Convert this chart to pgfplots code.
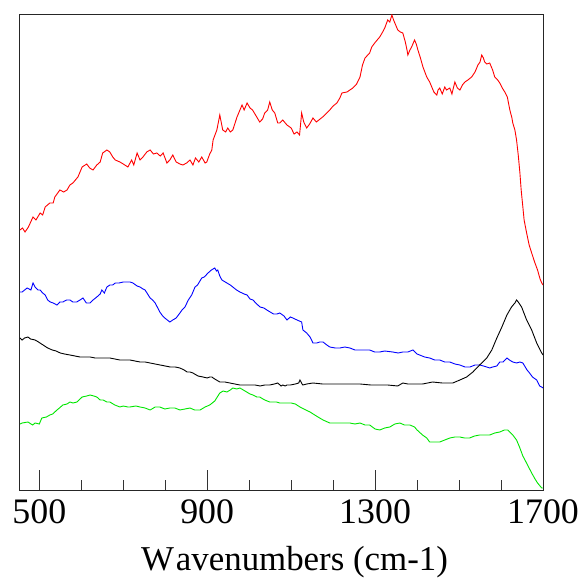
\documentclass[border=0pt]{standalone}
\usepackage{pgfplots}
\pgfplotsset{compat=1.18}
\usepackage{fontspec}
\setmainfont{Liberation Serif}
\definecolor{pgreen}{RGB}{0,230,0}
\begin{document}
\begin{tikzpicture}
\begin{axis}[
  scale only axis, width=523bp, height=475bp,
  xmin=454, xmax=1700, ymin=0, ymax=475,
  axis line style={line width=1bp, black!85},
  xtick={500,900,1300,1700},
  minor xtick={600,700,800,1000,1100,1200,1400,1500,1600},
  ytick=\empty,
  xtick pos=bottom, tick align=inside,
  major tick length=20bp, minor tick length=10bp,
  tick style={line width=0.9bp, black!80},
  /pgf/number format/assume math mode=true,
  /pgf/number format/1000 sep={},
  ticklabel style={font=\fontsize{36}{40}\selectfont},
  xticklabel style={yshift=-6bp},
  xlabel={W\kern2bp avenumbers (cm-1)},
  xlabel style={font=\fontsize{35}{40}\selectfont, xshift=13bp, yshift=-16bp},
  every axis plot/.append style={line width=0.9bp, mark=none},
]
\addplot[red] coordinates {
(454,260)(460,262)(466,258)(474,263)(485,273)(492,270)(502,277)(508,275)(514,283)(525,287)
(533,287)(537,293)(549,300)(558,298)(566,300)(573,305)(580,307)(586,310)(592,313)(602,323)
(613,326)(620,322)(628,320)(637,325)(645,328)(651,337)(661,340)(668,338)(675,333)(681,330)
(692,328)(700,326)(711,323)(720,330)(725,325)(733,337)(740,330)(747,333)(756,338)(764,340)
(772,336)(780,337)(788,334)(795,337)(804,327)(811,330)(818,335)(826,328)(835,326)(842,325)
(851,327)(859,330)(866,325)(872,332)(880,328)(887,333)(895,327)(899,328)(906,336)(911,340)
(914,350)(923,360)(930,375)(937,360)(944,358)(949,362)(955,358)(961,360)(971,373)(983,385)
(988,380)(995,387)(1002,382)(1008,380)(1018,373)(1025,368)(1032,371)(1037,377)(1044,380)(1049,388)
(1055,380)(1061,377)(1068,367)(1073,367)(1080,370)(1090,365)(1100,362)(1107,356)(1114,358)(1120,355)
(1125,377)(1130,368)(1137,362)(1144,366)(1152,372)(1160,368)(1175,373)(1185,377)(1192,380)(1200,384)
(1209,387)(1216,392)(1221,397)(1233,398)(1240,400)(1247,402)(1256,406)(1264,413)(1270,425)(1276,432)
(1287,437)(1292,443)(1299,447)(1311,453)(1318,458)(1323,462)(1330,470)(1335,468)(1340,475)(1344,470)
(1347,467)(1354,460)(1360,458)(1366,457)(1372,448)(1376,440)(1378,435)(1383,440)(1387,443)(1394,450)
(1398,446)(1402,440)(1408,432)(1414,423)(1423,413)(1430,408)(1435,403)(1440,398)(1447,395)(1450,400)
(1454,402)(1460,396)(1466,403)(1470,400)(1478,402)(1483,396)(1490,408)(1496,402)(1502,400)(1508,405)
(1514,408)(1521,410)(1530,413)(1538,418)(1545,425)(1550,428)(1554,435)(1558,432)(1561,428)(1566,426)
(1573,427)(1580,420)(1585,413)(1592,410)(1597,407)(1603,402)(1609,398)(1615,393)(1621,380)(1626,372)
(1628,367)(1633,360)(1637,350)(1641,335)(1645,317)(1648,300)(1652,283)(1655,270)(1661,257)(1667,245)
(1673,237)(1680,228)(1687,220)(1693,211)(1697,207)(1700,205)
};
\addplot[blue] coordinates {
(454,198)(459,198)(471,202)(480,200)(485,207)(490,203)(497,200)(502,200)(508,197)(514,195)
(520,190)(526,188)(533,187)(542,185)(549,188)(556,188)(565,190)(573,190)(580,188)(589,188)
(597,190)(604,192)(612,187)(621,187)(628,190)(637,193)(645,196)(649,200)(655,197)(661,203)
(668,205)(675,205)(681,207)(690,207)(700,208)(709,208)(716,208)(723,207)(733,204)(740,203)
(747,201)(752,200)(758,196)(764,192)(770,190)(776,187)(781,183)(787,178)(794,174)(799,172)
(805,170)(811,168)(818,170)(826,172)(835,177)(840,180)(847,183)(855,190)(863,195)(871,203)
(877,205)(887,212)(893,213)(902,217)(910,220)(918,222)(922,219)(925,220)(930,214)(935,210)
(947,207)(955,205)(961,203)(970,200)(978,198)(988,196)(995,195)(1002,191)(1009,190)(1018,186)
(1026,183)(1035,182)(1042,180)(1050,178)(1058,176)(1066,176)(1073,177)(1083,174)(1090,170)(1098,173)
(1104,172)(1114,170)(1125,168)(1128,160)(1137,157)(1145,153)(1152,147)(1161,147)(1168,148)(1176,148)
(1185,145)(1192,143)(1205,142)(1216,142)(1228,143)(1240,142)(1252,140)(1264,140)(1276,140)(1287,140)
(1299,138)(1311,138)(1323,139)(1342,138)(1355,137)(1366,138)(1378,138)(1390,140)(1400,136)(1406,135)
(1418,133)(1430,132)(1442,130)(1454,130)(1466,128)(1478,128)(1490,126)(1502,125)(1514,123)(1526,123)
(1538,125)(1550,125)(1566,123)(1573,122)(1580,123)(1590,124)(1597,128)(1605,128)(1614,132)(1620,130)
(1628,128)(1637,127)(1645,128)(1652,127)(1662,120)(1668,117)(1675,113)(1685,110)(1692,104)(1697,103)
(1700,102)
};
\addplot[black] coordinates {
(454,152)(459,150)(465,152)(473,153)(479,151)(490,150)(498,148)(509,145)(520,142)(531,140)
(540,139)(550,137)(560,136)(573,135)(585,134)(597,133)(610,133)(621,133)(633,132)(645,132)
(656,132)(668,132)(680,131)(692,130)(703,130)(716,130)(728,129)(740,128)(752,128)(764,127)
(776,126)(788,125)(800,124)(812,123)(824,123)(835,122)(845,120)(852,118)(859,118)(866,117)
(878,114)(890,113)(900,112)(906,113)(911,113)(918,111)(930,108)(942,108)(954,107)(966,106)
(978,105)(990,105)(1002,105)(1014,105)(1026,104)(1037,105)(1049,105)(1060,106)(1068,107)(1076,104)
(1080,105)(1086,104)(1090,105)(1098,105)(1110,106)(1118,107)(1121,110)(1126,106)(1128,105)(1137,106)
(1152,107)(1175,106)(1199,106)(1233,106)(1264,106)(1290,105)(1311,105)(1330,105)(1354,104)(1366,107)
(1378,106)(1390,106)(1413,106)(1437,108)(1460,107)(1485,107)(1502,110)(1518,113)(1533,118)(1549,125)
(1566,132)(1578,140)(1590,152)(1602,163)(1614,175)(1625,183)(1633,187)(1637,190)(1641,188)(1649,183)
(1661,170)(1673,160)(1685,147)(1697,137)(1700,135)
};
\addplot[pgreen] coordinates {
(454,66)(459,67)(473,68)(484,65)(490,67)(500,66)(506,72)(517,73)(525,75)(532,76)
(542,80)(548,82)(556,85)(566,86)(573,88)(580,87)(590,88)(602,93)(613,94)(621,95)
(630,94)(637,93)(645,90)(652,90)(661,88)(668,88)(680,85)(692,83)(700,84)(711,83)
(716,83)(730,84)(740,83)(752,82)(764,80)(776,83)(787,83)(799,81)(811,82)(823,82)
(835,80)(847,81)(859,82)(870,80)(883,80)(895,83)(906,85)(918,89)(930,97)(938,99)
(947,98)(955,100)(961,102)(970,101)(978,102)(990,99)(1002,96)(1009,95)(1018,93)(1025,93)
(1037,90)(1049,88)(1056,88)(1065,88)(1073,87)(1090,87)(1100,87)(1110,86)(1121,83)(1130,81)
(1145,78)(1160,74)(1168,72)(1176,70)(1192,67)(1200,67)(1216,67)(1230,67)(1240,67)(1252,66)
(1264,67)(1276,65)(1287,65)(1300,61)(1311,60)(1323,62)(1335,63)(1347,66)(1359,67)(1370,65)
(1383,65)(1394,63)(1400,60)(1413,55)(1423,52)(1430,48)(1442,48)(1454,48)(1466,50)(1478,52)
(1490,53)(1502,53)(1513,52)(1525,52)(1537,54)(1549,55)(1561,55)(1573,55)(1585,57)(1597,58)
(1608,60)(1616,60)(1621,58)(1628,55)(1637,50)(1644,43)(1652,34)(1662,26)(1673,17)(1681,11)
(1687,7)(1697,2)(1700,2)
};
\end{axis}
\pgfresetboundingbox
\path[use as bounding box] ([shift={(-20bp,-90bp)}]current axis.south west) rectangle ([shift={(38bp,15bp)}]current axis.north east);
\end{tikzpicture}
\end{document}
